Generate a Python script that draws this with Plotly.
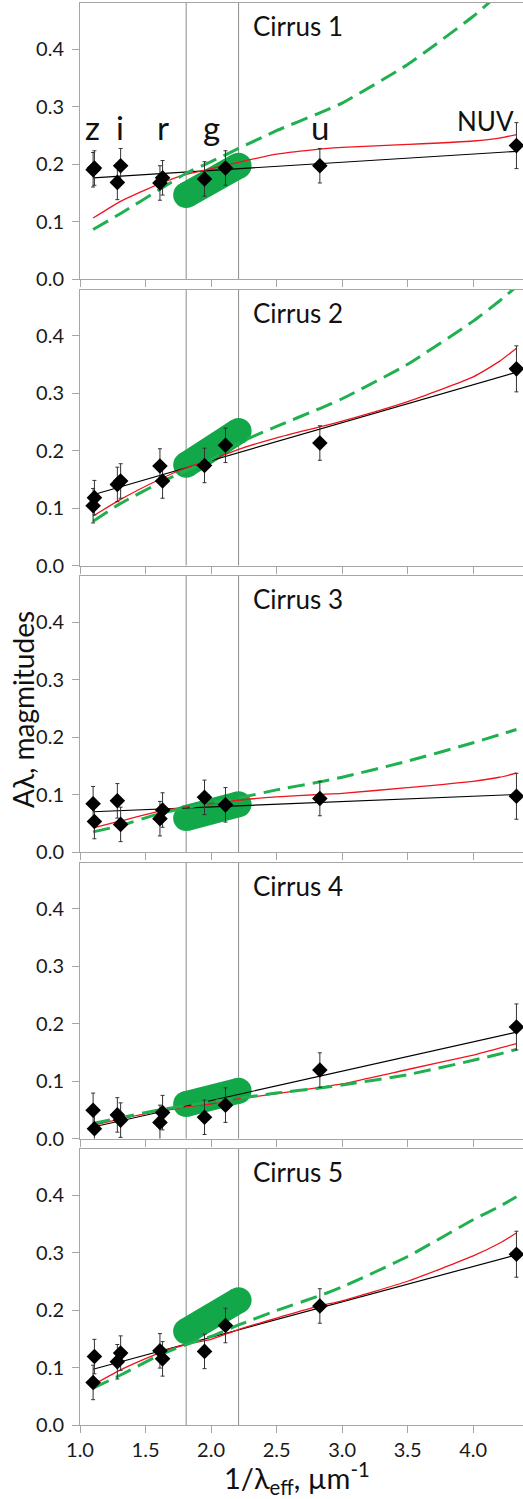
import plotly.graph_objects as go

# ---------------- data ----------------
panel_names = ["Cirrus 1", "Cirrus 2", "Cirrus 3", "Cirrus 4", "Cirrus 5"]

# measured points (z, z, i, i, r, r, g, g, u, NUV)
x_pts = [1.10, 1.11, 1.285, 1.31, 1.61, 1.63, 1.95, 2.11, 2.83, 4.33]
y_pts = [
    [0.190, 0.193, 0.168, 0.197, 0.167, 0.176, 0.174, 0.193, 0.197, 0.232],
    [0.104, 0.118, 0.141, 0.147, 0.173, 0.147, 0.174, 0.209, 0.213, 0.342],
    [0.084, 0.053, 0.089, 0.048, 0.058, 0.073, 0.095, 0.082, 0.093, 0.097],
    [0.049, 0.017, 0.041, 0.032, 0.028, 0.045, 0.037, 0.058, 0.119, 0.194],
    [0.074, 0.119, 0.110, 0.125, 0.129, 0.115, 0.128, 0.173, 0.207, 0.297],
]
err_pts = [0.03, 0.03, 0.03, 0.03, 0.03, 0.03, 0.03, 0.03, 0.03, 0.04]

# black linear fits (end points)
x_fit = [1.10, 4.33]
y_fit = [
    [0.176, 0.222],
    [0.123, 0.336],
    [0.070, 0.100],
    [0.020, 0.185],
    [0.097, 0.296],
]

# model curves
x_curve = [1.10, 1.31, 1.61, 1.81, 2.0, 2.21, 2.5, 2.83, 3.0, 3.5, 4.0, 4.2, 4.33]
y_red = [
    [0.106, 0.135, 0.166, 0.182, 0.192, 0.203, 0.217, 0.226, 0.229, 0.234, 0.240, 0.245, 0.251],
    [0.086, 0.115, 0.150, 0.170, 0.184, 0.202, 0.222, 0.241, 0.251, 0.285, 0.328, 0.355, 0.378],
    [0.042, 0.054, 0.071, 0.078, 0.084, 0.090, 0.096, 0.100, 0.102, 0.112, 0.123, 0.130, 0.137],
    [0.023, 0.034, 0.048, 0.055, 0.060, 0.069, 0.078, 0.089, 0.095, 0.120, 0.145, 0.157, 0.165],
    [0.070, 0.096, 0.126, 0.140, 0.149, 0.166, 0.186, 0.207, 0.216, 0.250, 0.294, 0.316, 0.334],
]
y_green = [
    [0.086, 0.114, 0.156, 0.184, 0.204, 0.227, 0.258, 0.289, 0.306, 0.373, 0.457, 0.497, 0.530],
    [0.077, 0.108, 0.144, 0.165, 0.184, 0.213, 0.242, 0.273, 0.290, 0.350, 0.425, 0.460, 0.485],
    [0.035, 0.046, 0.067, 0.077, 0.086, 0.094, 0.108, 0.122, 0.130, 0.158, 0.190, 0.204, 0.213],
    [0.026, 0.036, 0.050, 0.057, 0.064, 0.070, 0.079, 0.088, 0.093, 0.111, 0.136, 0.147, 0.155],
    [0.064, 0.087, 0.122, 0.140, 0.154, 0.174, 0.199, 0.225, 0.240, 0.293, 0.357, 0.380, 0.397],
]

# g-band constraint (green pill) between band edges
band_edges = [1.81, 2.21]
pill_y = [
    [0.146, 0.197],
    [0.175, 0.234],
    [0.059, 0.083],
    [0.060, 0.083],
    [0.163, 0.217],
]

band_labels = ["z", "i", "r", "g", "u", "NUV"]
band_label_x = [1.096, 1.305, 1.635, 2.0, 2.83, 4.095]

x_ticks = [1.0, 1.5, 2.0, 2.5, 3.0, 3.5, 4.0]
x_ticktext = ["1.0", "1.5", "2.0", "2.5", "3.0", "3.5", "4.0"]
y_ticks = [0.0, 0.1, 0.2, 0.3, 0.4]
y_ticktext = ["0.0", "0.1", "0.2", "0.3", "0.4"]

# ---------------- figure ----------------
W, H = 523, 1499
mt, mb, ml, mr = 3, 74, 80, 0
plot_h = H - mt - mb
panel_h = 276
panel_step = 286.5

FONT = "Lato, 'Open Sans', sans-serif"
GREEN = "#12A84A"
GREEN_D = "#1FB050"
RED = "#F0141E"
AXC = "#A6A6A6"

fig = go.Figure()
layout = dict(
    width=W, height=H,
    margin=dict(l=ml, r=mr, t=mt, b=mb, pad=0, autoexpand=False),
    paper_bgcolor="white", plot_bgcolor="white",
    showlegend=False,
    font=dict(family=FONT, color="#1a1a1a", size=20),
)
shapes = []
annotations = []

for i in range(5):
    n = i + 1
    xa = "x" if n == 1 else f"x{n}"
    ya = "y" if n == 1 else f"y{n}"
    top_px = i * panel_step
    d1 = 1 - top_px / plot_h
    d0 = 1 - (top_px + panel_h) / plot_h
    d0 = max(d0, 0)

    # pill
    fig.add_trace(go.Scatter(
        x=band_edges, y=pill_y[i], xaxis=xa, yaxis=ya, mode="lines+markers",
        line=dict(color=GREEN, width=26),
        marker=dict(color=GREEN, size=26, line=dict(width=0)),
        hoverinfo="skip"))
    # black fit
    fig.add_trace(go.Scatter(
        x=x_fit, y=y_fit[i], xaxis=xa, yaxis=ya, mode="lines",
        line=dict(color="black", width=1.2), hoverinfo="skip"))
    # red model
    fig.add_trace(go.Scatter(
        x=x_curve, y=y_red[i], xaxis=xa, yaxis=ya, mode="lines",
        line=dict(color=RED, width=1.3, shape="spline", smoothing=0.5), hoverinfo="skip"))
    # green dashed model
    fig.add_trace(go.Scatter(
        x=x_curve, y=y_green[i], xaxis=xa, yaxis=ya, mode="lines",
        line=dict(color=GREEN_D, width=3, dash="17px,8px", shape="spline", smoothing=0.5),
        hoverinfo="skip"))
    # points
    fig.add_trace(go.Scatter(
        x=x_pts, y=y_pts[i], xaxis=xa, yaxis=ya, mode="markers",
        marker=dict(symbol="diamond", size=12, color="black"),
        error_y=dict(type="data", array=err_pts, visible=True,
                     color="#333333", thickness=1, width=2),
        hoverinfo="skip"))

    common_x = dict(range=[1.0, 4.38], tickvals=x_ticks, ticktext=x_ticktext,
                    showgrid=False, zeroline=False, fixedrange=True, automargin=False)
    common_y = dict(range=[0, 0.48], tickvals=y_ticks, ticktext=y_ticktext,
                    showgrid=False, zeroline=False, fixedrange=True, automargin=False)

    layout[f"xaxis{'' if n == 1 else n}"] = dict(
        **common_x, domain=[0, 1], anchor=ya,
        ticks="outside", ticklen=7, tickwidth=1, tickcolor=AXC,
        showline=True, linecolor=AXC, linewidth=1, mirror=True,
        showticklabels=(n == 5), tickfont=dict(size=20, family=FONT, color="#1a1a1a"))
    layout[f"yaxis{'' if n == 1 else n}"] = dict(
        **common_y, domain=[d0, d1], anchor=xa,
        ticks="outside", ticklen=7, tickwidth=1, tickcolor=AXC,
        showline=True, linecolor=AXC, linewidth=1, mirror=True,
        ticklabelstandoff=4,
        tickfont=dict(size=20, family=FONT, color="#1a1a1a"))
    # overlay axes for inward half of crossing ticks
    layout[f"xaxis{5 + n}"] = dict(
        **common_x, overlaying=xa, anchor=ya, side="bottom",
        ticks="inside", ticklen=6, tickwidth=1, tickcolor=AXC,
        showline=False, showticklabels=False)
    layout[f"yaxis{5 + n}"] = dict(
        **common_y, overlaying=ya, anchor=xa, side="left",
        ticks="inside", ticklen=7, tickwidth=1, tickcolor=AXC,
        showline=False, showticklabels=False)

    for xe in band_edges:
        shapes.append(dict(type="line", xref=xa, yref=f"{ya} domain",
                           x0=xe, x1=xe, y0=0, y1=1, layer="below",
                           line=dict(color="#8C8C8C", width=1)))

    annotations.append(dict(text=panel_names[i], xref=xa, yref=ya, x=2.305, y=0.44,
                            xanchor="left", yanchor="middle", showarrow=False,
                            font=dict(size=26, family=FONT, color="#111")))

for lab, lx in zip(band_labels, band_label_x):
    big = lab != "NUV"
    annotations.append(dict(text=lab, xref="x", yref="y", x=lx,
                            y=0.264 if big else 0.274,
                            xanchor="center", yanchor="middle", showarrow=False,
                            font=dict(size=33 if big else 26, family=FONT, color="#111")))

annotations.append(dict(text="A\u03bb, magmitudes", xref="paper", yref="paper",
                        x=(23 - ml) / (W - ml - mr), y=1 - (710 - mt) / plot_h,
                        xanchor="center", yanchor="middle", textangle=-90,
                        showarrow=False, font=dict(size=28, family=FONT, color="#111")))
annotations.append(dict(text="1/\u03bb<sub>eff</sub>, \u00b5m<sup>-1</sup>",
                        xref="paper", yref="paper",
                        x=(297 - ml) / (W - ml - mr), y=1 - (1478 - mt) / plot_h,
                        xanchor="center", yanchor="middle",
                        showarrow=False, font=dict(size=29, family=FONT, color="#111")))

layout["shapes"] = shapes
layout["annotations"] = annotations
fig.update_layout(**layout)

fig.write_html("out.html", config={"displayModeBar": False},
               post_script="document.body.style.margin='0';document.body.style.overflow='hidden';")
